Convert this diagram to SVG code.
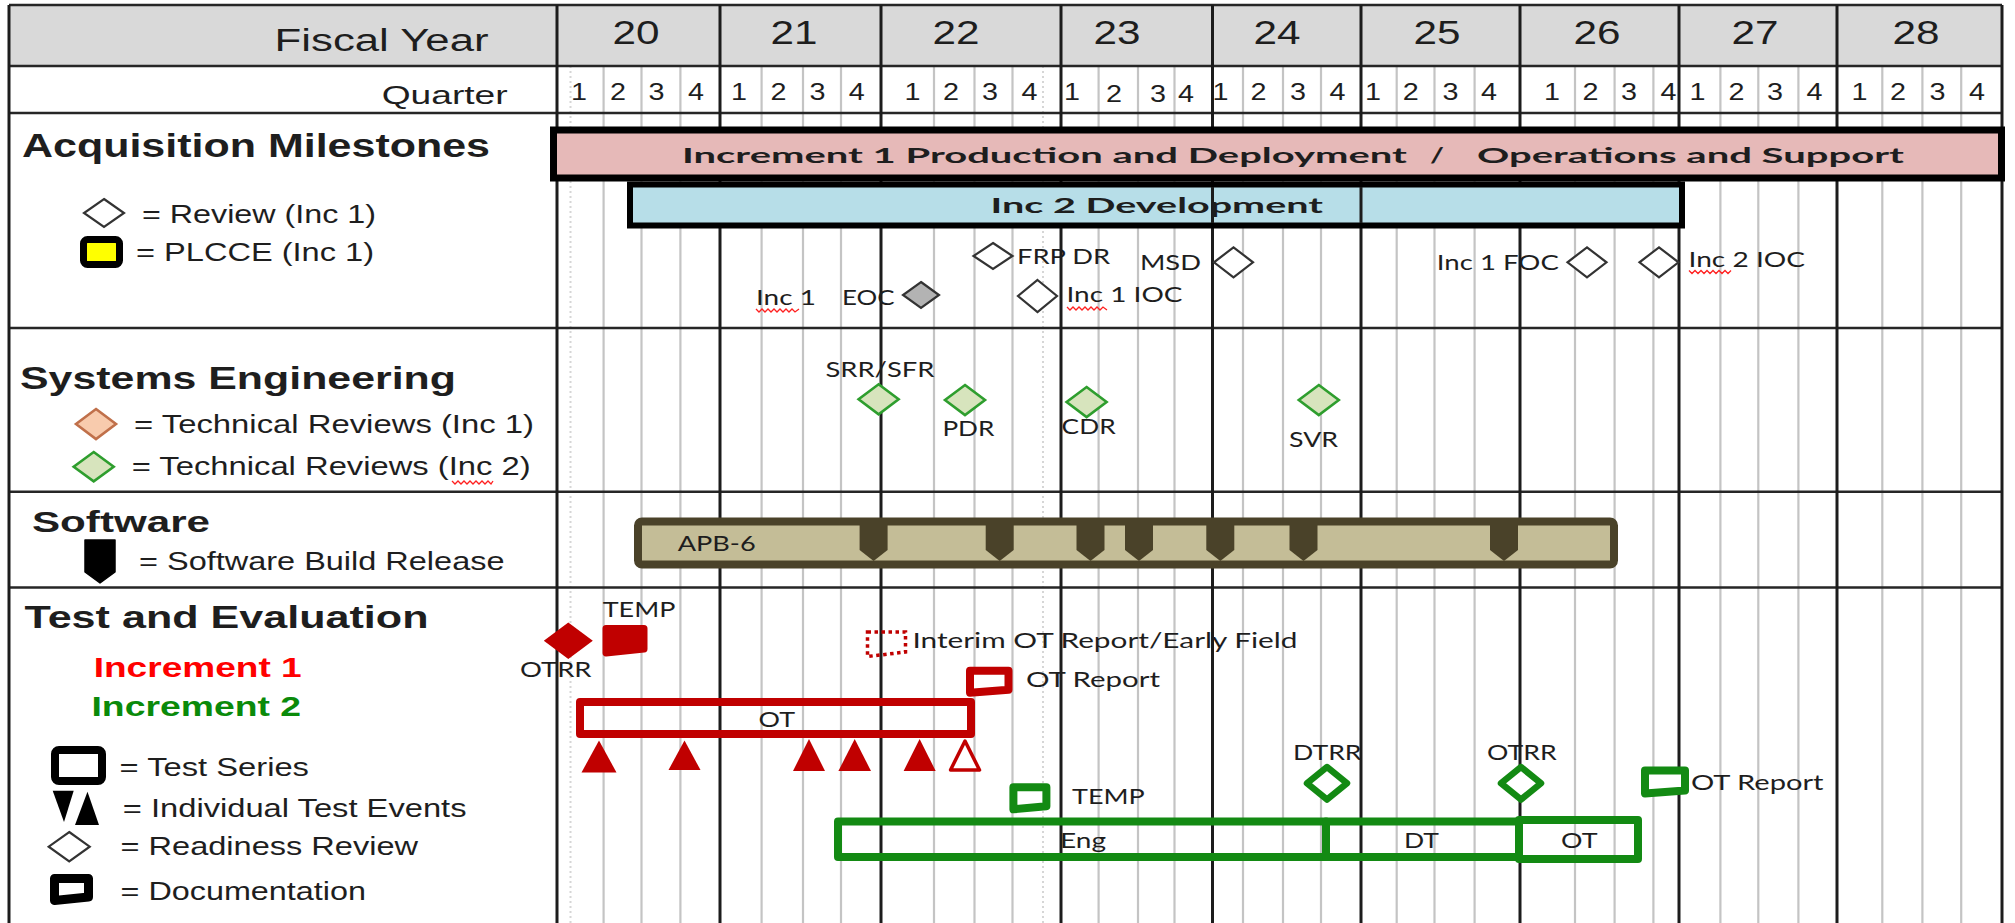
<svg xmlns="http://www.w3.org/2000/svg" width="2015" height="923" viewBox="0 0 2015 923">
<style>
.a{font-family:"Liberation Sans",Arial,sans-serif;fill:#1e1e1e}
.c{font-family:Lato,"Open Sans",sans-serif;fill:#1e1e1e;font-size:21px}
.b{font-weight:bold}
.q{stroke:#c4c4c4;stroke-width:2.2}
.qd{stroke:#d6d6d6;stroke-width:2;stroke-dasharray:2 3}
.y{stroke:#1c1c1c;stroke-width:3}
.h{stroke:#262626;stroke-width:2.6}
.dw{fill:#fff;stroke:#333;stroke-width:2.2}
.dg{fill:#d7e4bd;stroke:#2e9e2e;stroke-width:2.6}
.rd{fill:#c00000}
.gr{fill:none;stroke:#138a13;stroke-width:8;stroke-linejoin:round}
.rr{fill:none;stroke:#c00000;stroke-width:8;stroke-linejoin:round}
.nt{fill:#4a4229}
.sq{fill:none;stroke:#ff2020;stroke-width:1.3}
.doc{stroke-width:8;stroke-linejoin:round}
</style>

<g id="grid">
<rect x="9" y="5" width="1993" height="61" fill="#d9d9d9"/>
<rect x="9" y="66" width="1993" height="857" fill="#fff"/>
<g class="qd">
<line x1="570.5" y1="66" x2="570.5" y2="923"/><line x1="1043" y1="66" x2="1043" y2="923"/>
</g>
<g class="q">
<line x1="603.6" y1="66" x2="603.6" y2="923"/><line x1="641.5" y1="66" x2="641.5" y2="923"/><line x1="680.4" y1="66" x2="680.4" y2="923"/>
<line x1="761.6" y1="66" x2="761.6" y2="923"/><line x1="803" y1="66" x2="803" y2="923"/><line x1="841" y1="66" x2="841" y2="923"/>
<line x1="934" y1="66" x2="934" y2="923"/><line x1="974.5" y1="66" x2="974.5" y2="923"/><line x1="1012.5" y1="66" x2="1012.5" y2="923"/>
<line x1="1098.6" y1="66" x2="1098.6" y2="923"/><line x1="1138" y1="66" x2="1138" y2="923"/><line x1="1174.5" y1="66" x2="1174.5" y2="923"/>
<line x1="1243" y1="66" x2="1243" y2="923"/><line x1="1283" y1="66" x2="1283" y2="923"/><line x1="1321" y1="66" x2="1321" y2="923"/>
<line x1="1396.7" y1="66" x2="1396.7" y2="923"/><line x1="1434.5" y1="66" x2="1434.5" y2="923"/><line x1="1474.6" y1="66" x2="1474.6" y2="923"/>
<line x1="1575" y1="66" x2="1575" y2="923"/><line x1="1614.6" y1="66" x2="1614.6" y2="923"/><line x1="1653.4" y1="66" x2="1653.4" y2="923"/>
<line x1="1720.4" y1="66" x2="1720.4" y2="923"/><line x1="1758.3" y1="66" x2="1758.3" y2="923"/><line x1="1798.4" y1="66" x2="1798.4" y2="923"/>
<line x1="1882.3" y1="66" x2="1882.3" y2="923"/><line x1="1922.4" y1="66" x2="1922.4" y2="923"/><line x1="1961.2" y1="66" x2="1961.2" y2="923"/>
</g>
<g class="h">
<line x1="9" y1="5" x2="2002" y2="5"/><line x1="9" y1="66" x2="2002" y2="66"/><line x1="9" y1="113" x2="2002" y2="113"/>
<line x1="9" y1="328" x2="2002" y2="328"/><line x1="9" y1="491.7" x2="2002" y2="491.7"/><line x1="9" y1="587.5" x2="2002" y2="587.5"/>
</g>
<g class="y">
<line x1="9" y1="5" x2="9" y2="923"/>
<line x1="557" y1="5" x2="557" y2="923"/><line x1="720" y1="5" x2="720" y2="923"/><line x1="881" y1="5" x2="881" y2="923"/>
<line x1="1061" y1="5" x2="1061" y2="923"/><line x1="1212.5" y1="5" x2="1212.5" y2="923"/><line x1="1361" y1="5" x2="1361" y2="923"/>
<line x1="1520" y1="5" x2="1520" y2="923"/><line x1="1679" y1="5" x2="1679" y2="923"/><line x1="1837" y1="5" x2="1837" y2="923"/>
<line x1="2002" y1="5" x2="2002" y2="923"/>
</g>
</g>

<g id="header">
<text class="a" x="274.6" y="50.7" font-size="31" textLength="214" lengthAdjust="spacingAndGlyphs">Fiscal Year</text>
<text class="a" x="381.7" y="104" font-size="26" textLength="126" lengthAdjust="spacingAndGlyphs">Quarter</text>
<g class="a" font-size="33" text-anchor="middle">
<text x="636" y="44.3" textLength="47" lengthAdjust="spacingAndGlyphs">20</text>
<text x="794" y="44.3" textLength="47" lengthAdjust="spacingAndGlyphs">21</text>
<text x="956" y="44.3" textLength="47" lengthAdjust="spacingAndGlyphs">22</text>
<text x="1117" y="44.3" textLength="47" lengthAdjust="spacingAndGlyphs">23</text>
<text x="1277" y="44.3" textLength="47" lengthAdjust="spacingAndGlyphs">24</text>
<text x="1437" y="44.3" textLength="47" lengthAdjust="spacingAndGlyphs">25</text>
<text x="1597" y="44.3" textLength="47" lengthAdjust="spacingAndGlyphs">26</text>
<text x="1755" y="44.3" textLength="47" lengthAdjust="spacingAndGlyphs">27</text>
<text x="1916" y="44.3" textLength="47" lengthAdjust="spacingAndGlyphs">28</text>
</g>
<g class="a" font-size="24" text-anchor="middle">
<text x="579" y="100" textLength="16" lengthAdjust="spacingAndGlyphs">1</text><text x="618" y="100" textLength="16" lengthAdjust="spacingAndGlyphs">2</text><text x="656.5" y="100" textLength="16" lengthAdjust="spacingAndGlyphs">3</text><text x="696" y="100" textLength="16" lengthAdjust="spacingAndGlyphs">4</text>
<text x="739" y="100" textLength="16" lengthAdjust="spacingAndGlyphs">1</text><text x="778.6" y="100" textLength="16" lengthAdjust="spacingAndGlyphs">2</text><text x="817.4" y="100" textLength="16" lengthAdjust="spacingAndGlyphs">3</text><text x="856.7" y="100" textLength="16" lengthAdjust="spacingAndGlyphs">4</text>
<text x="912.5" y="100" textLength="16" lengthAdjust="spacingAndGlyphs">1</text><text x="951" y="100" textLength="16" lengthAdjust="spacingAndGlyphs">2</text><text x="990" y="100" textLength="16" lengthAdjust="spacingAndGlyphs">3</text><text x="1029.5" y="100" textLength="16" lengthAdjust="spacingAndGlyphs">4</text>
<text x="1072" y="100" textLength="16" lengthAdjust="spacingAndGlyphs">1</text><text x="1114" y="102" textLength="16" lengthAdjust="spacingAndGlyphs">2</text><text x="1158" y="102" textLength="16" lengthAdjust="spacingAndGlyphs">3</text><text x="1186" y="102" textLength="16" lengthAdjust="spacingAndGlyphs">4</text>
<text x="1220.5" y="100" textLength="16" lengthAdjust="spacingAndGlyphs">1</text><text x="1258.5" y="100" textLength="16" lengthAdjust="spacingAndGlyphs">2</text><text x="1298" y="100" textLength="16" lengthAdjust="spacingAndGlyphs">3</text><text x="1337.5" y="100" textLength="16" lengthAdjust="spacingAndGlyphs">4</text>
<text x="1373" y="100" textLength="16" lengthAdjust="spacingAndGlyphs">1</text><text x="1410.8" y="100" textLength="16" lengthAdjust="spacingAndGlyphs">2</text><text x="1450.5" y="100" textLength="16" lengthAdjust="spacingAndGlyphs">3</text><text x="1489" y="100" textLength="16" lengthAdjust="spacingAndGlyphs">4</text>
<text x="1552" y="100" textLength="16" lengthAdjust="spacingAndGlyphs">1</text><text x="1590.5" y="100" textLength="16" lengthAdjust="spacingAndGlyphs">2</text><text x="1629" y="100" textLength="16" lengthAdjust="spacingAndGlyphs">3</text><text x="1668.5" y="100" textLength="16" lengthAdjust="spacingAndGlyphs">4</text>
<text x="1697.6" y="100" textLength="16" lengthAdjust="spacingAndGlyphs">1</text><text x="1736.4" y="100" textLength="16" lengthAdjust="spacingAndGlyphs">2</text><text x="1775" y="100" textLength="16" lengthAdjust="spacingAndGlyphs">3</text><text x="1814.4" y="100" textLength="16" lengthAdjust="spacingAndGlyphs">4</text>
<text x="1859.5" y="100" textLength="16" lengthAdjust="spacingAndGlyphs">1</text><text x="1898" y="100" textLength="16" lengthAdjust="spacingAndGlyphs">2</text><text x="1937.5" y="100" textLength="16" lengthAdjust="spacingAndGlyphs">3</text><text x="1977" y="100" textLength="16" lengthAdjust="spacingAndGlyphs">4</text>
</g>
</g>

<g id="legend-acquisition">
<text class="a b" x="22" y="156.7" font-size="32.5" textLength="468" lengthAdjust="spacingAndGlyphs">Acquisition Milestones</text>
<polygon class="dw" points="104,199 124,213 104,227 84,213"/>
<text class="a" x="142" y="222.7" font-size="25" textLength="234" lengthAdjust="spacingAndGlyphs">= Review (Inc 1)</text>
<rect x="83.5" y="239.5" width="36" height="25" rx="4" fill="#ffff00" stroke="#000" stroke-width="7"/>
<text class="a" x="136" y="261" font-size="25" textLength="238" lengthAdjust="spacingAndGlyphs">= PLCCE (Inc 1)</text>
</g>

<g id="legend-se">
<text class="a b" x="20" y="389.3" font-size="32" textLength="436" lengthAdjust="spacingAndGlyphs">Systems Engineering</text>
<polygon points="96,409 116,424 96,439 76,424" fill="#f8cbad" stroke="#c0704a" stroke-width="2.6"/>
<text class="a" x="134" y="433.3" font-size="25" textLength="400" lengthAdjust="spacingAndGlyphs">= Technical Reviews (Inc 1)</text>
<polygon class="dg" points="93.7,452 113.7,466.7 93.7,481.4 73.7,466.7"/>
<text class="a" x="131.7" y="475" font-size="25" textLength="399" lengthAdjust="spacingAndGlyphs">= Technical Reviews (Inc 2)</text>
<polyline class="sq" points="452,481 455,484 458,481 461,484 464,481 467,484 470,481 473,484 476,481 479,484 482,481 485,484 488,481 491,484 493,481"/>
</g>

<g id="legend-software">
<text class="a b" x="32" y="531.7" font-size="30" textLength="178" lengthAdjust="spacingAndGlyphs">Software</text>
<polygon points="85,540 115,540 115,572 100,583 85,572" fill="#000" stroke="#000" stroke-width="1.5" stroke-linejoin="round"/>
<text class="a" x="139" y="570" font-size="25" textLength="365.5" lengthAdjust="spacingAndGlyphs">= Software Build Release</text>
</g>

<g id="legend-te">
<text class="a b" x="24.5" y="627.7" font-size="32" textLength="404" lengthAdjust="spacingAndGlyphs">Test and Evaluation</text>
<text class="a b" x="93.7" y="676.7" font-size="27" textLength="208" lengthAdjust="spacingAndGlyphs" style="fill:#ff0000">Increment 1</text>
<text class="a b" x="91.5" y="716" font-size="27" textLength="209.5" lengthAdjust="spacingAndGlyphs" style="fill:#0a8a0a">Increment 2</text>
<rect x="55" y="750" width="47" height="31" rx="4" fill="#fff" stroke="#000" stroke-width="8"/>
<text class="a" x="119.6" y="776" font-size="25" textLength="189.4" lengthAdjust="spacingAndGlyphs">= Test Series</text>
<polygon points="52.7,790.7 73.7,790.7 64,822" fill="#000"/>
<polygon points="87.5,791.7 99,825 75,825" fill="#000"/>
<text class="a" x="122.8" y="816.7" font-size="25" textLength="343.7" lengthAdjust="spacingAndGlyphs">= Individual Test Events</text>
<polygon class="dw" points="69.2,832 89.7,846.7 69.2,861.4 48.7,846.7"/>
<text class="a" x="120.5" y="855" font-size="25" textLength="297.5" lengthAdjust="spacingAndGlyphs">= Readiness Review</text>
<path d="M54.5,878.5 H88.5 V897 L54.5,900.5 Z" fill="#fff" stroke="#000" stroke-width="9" stroke-linejoin="round"/>
<text class="a" x="120.5" y="900" font-size="25" textLength="245.5" lengthAdjust="spacingAndGlyphs">= Documentation</text>
</g>

<g id="bar-inc1">
<rect x="553.5" y="130" width="1448" height="48" fill="#e6b9b8" stroke="#000" stroke-width="7"/>
<text class="c b" x="682" y="163.3" font-size="28" textLength="725" lengthAdjust="spacingAndGlyphs">Increment 1 Production and Deployment</text>
<text class="c b" x="1430" y="163.3" font-size="28" textLength="14" lengthAdjust="spacingAndGlyphs">/</text>
<text class="c b" x="1477" y="163.3" font-size="28" textLength="427" lengthAdjust="spacingAndGlyphs">Operations and Support</text>
</g>

<g id="bar-inc2">
<rect x="630" y="184.5" width="1052" height="41" fill="#b7dee8" stroke="#000" stroke-width="6"/>
<line class="y" x1="1212.5" y1="187" x2="1212.5" y2="223" stroke-width="2"/>
<line class="y" x1="1361" y1="187" x2="1361" y2="223" stroke-width="2.5"/>
<text class="c b" x="990.6" y="213.3" font-size="25" textLength="332.4" lengthAdjust="spacingAndGlyphs">Inc 2 Development</text>
</g>

<g id="ms-frp-dr">
<polygon class="dw" points="993,243 1012.5,256 993,269 973.5,256"/>
<text class="c" x="1017" y="264" textLength="93" lengthAdjust="spacingAndGlyphs">FRP DR</text>
</g>
<g id="ms-msd">
<text class="c" x="1140" y="270" textLength="61" lengthAdjust="spacingAndGlyphs">MSD</text>
<polygon class="dw" points="1233.5,247.3 1253,262.3 1233.5,277.3 1214,262.3"/>
</g>
<g id="ms-eoc">
<text class="c" x="756" y="305" textLength="60" lengthAdjust="spacingAndGlyphs">Inc 1</text>
<polyline class="sq" points="756,309 759,312 762,309 765,312 768,309 771,312 774,309 777,312 780,309 783,312 786,309 789,312 792,309 795,312 799,309"/>
<text class="c" x="842" y="305" textLength="52.6" lengthAdjust="spacingAndGlyphs">EOC</text>
<polygon points="921,282 939,295 921,308 903,295" fill="#b3b3b3" stroke="#333" stroke-width="2.2"/>
</g>
<g id="ms-inc1-ioc">
<polygon class="dw" points="1037.5,280 1057,296 1037.5,312 1018,296"/>
<text class="c" x="1066.5" y="301.7" textLength="116" lengthAdjust="spacingAndGlyphs">Inc 1 IOC</text>
<polyline class="sq" points="1067,307 1070,310 1073,307 1076,310 1079,307 1082,310 1085,307 1088,310 1091,307 1094,310 1097,307 1100,310 1103,307 1107,310"/>
</g>
<g id="ms-inc1-foc">
<text class="c" x="1436.8" y="270" textLength="122" lengthAdjust="spacingAndGlyphs">Inc 1 FOC</text>
<polygon class="dw" points="1587,247.3 1606.5,262.3 1587,277.3 1567.5,262.3"/>
</g>
<g id="ms-inc2-ioc">
<polygon class="dw" points="1659,247.3 1678.5,262.3 1659,277.3 1639.5,262.3"/>
<text class="c" x="1688.5" y="266.7" textLength="116.5" lengthAdjust="spacingAndGlyphs">Inc 2 IOC</text>
<polyline class="sq" points="1689,270.5 1692,273.5 1695,270.5 1698,273.5 1701,270.5 1704,273.5 1707,270.5 1710,273.5 1713,270.5 1716,273.5 1719,270.5 1722,273.5 1725,270.5 1728,273.5 1731,270.5"/>
</g>

<g id="se-srr-sfr">
<text class="c" x="825.4" y="377.3" textLength="109" lengthAdjust="spacingAndGlyphs">SRR/SFR</text>
<polygon class="dg" points="878.6,384.3 898.6,399.3 878.6,414.3 858.6,399.3"/>
</g>
<g id="se-pdr">
<polygon class="dg" points="965,385 985,400 965,415 945,400"/>
<text class="c" x="942.4" y="436" textLength="52" lengthAdjust="spacingAndGlyphs">PDR</text>
</g>
<g id="se-cdr">
<polygon class="dg" points="1086.6,387 1106.6,402 1086.6,417 1066.6,402"/>
<text class="c" x="1061.6" y="434" textLength="54" lengthAdjust="spacingAndGlyphs">CDR</text>
</g>
<g id="se-svr">
<polygon class="dg" points="1318.8,385 1338.8,400 1318.8,415 1298.8,400"/>
<text class="c" x="1289" y="446.7" textLength="49" lengthAdjust="spacingAndGlyphs">SVR</text>
</g>

<g id="sw-apb6">
<rect x="638" y="521.5" width="976" height="43" rx="4" fill="#c4bd97" stroke="#4a4229" stroke-width="8"/>
<text class="c" x="677.7" y="551" textLength="78" lengthAdjust="spacingAndGlyphs">APB-6</text>
<polygon class="nt" points="859.6,524 887.6,524 887.6,550 873.6,561 859.6,550"/>
<polygon class="nt" points="985.7,524 1013.7,524 1013.7,550 999.7,561 985.7,550"/>
<polygon class="nt" points="1076.5,524 1104.5,524 1104.5,550 1090.5,561 1076.5,550"/>
<polygon class="nt" points="1125,524 1153,524 1153,550 1139,561 1125,550"/>
<polygon class="nt" points="1206.3,524 1234.3,524 1234.3,550 1220.3,561 1206.3,550"/>
<polygon class="nt" points="1289.5,524 1317.5,524 1317.5,550 1303.5,561 1289.5,550"/>
<polygon class="nt" points="1490,524 1518,524 1518,550 1504,561 1490,550"/>
</g>

<g id="te-otrr-inc1">
<polygon class="rd" points="568.3,622.4 592.8,640.7 568.3,659 543.8,640.7"/>
<text class="c" x="520" y="676.7" textLength="71.5" lengthAdjust="spacingAndGlyphs">OTRR</text>
</g>
<g id="te-temp-inc1">
<text class="c" x="602.7" y="617.3" textLength="72.7" lengthAdjust="spacingAndGlyphs">TEMP</text>
<path d="M606,628.5 H644 V649 L606,653 Z" fill="#c00000" stroke="#c00000" stroke-width="7" stroke-linejoin="round"/>
</g>
<g id="te-interim">
<path d="M867.5,632 H905.5 V652 L867.5,656.5 Z" fill="none" stroke="#c00000" stroke-width="3.5" stroke-dasharray="3.5 3.5"/>
<text class="c" x="912.5" y="648.3" textLength="385" lengthAdjust="spacingAndGlyphs">Interim OT Report/Early Field</text>
</g>
<g id="te-ot-report-inc1">
<path class="doc" d="M970,670.7 H1008.5 V689.7 L970,692.7 Z" fill="#fff" stroke="#c00000"/>
<text class="c" x="1026" y="687.3" textLength="134" lengthAdjust="spacingAndGlyphs">OT Report</text>
</g>
<g id="te-ot-inc1">
<rect class="rr" x="580" y="702" width="391" height="32"/>
<text class="c" x="758.5" y="726.7" textLength="36.5" lengthAdjust="spacingAndGlyphs">OT</text>
</g>
<g id="te-events-inc1">
<polygon class="rd" points="599,740.5 616.5,772.5 581.5,772.5"/>
<polygon class="rd" points="684.5,740.5 700.5,770 668.5,770"/>
<polygon class="rd" points="809,739 825,771 793,771"/>
<polygon class="rd" points="854.7,739 871,771 838.4,771"/>
<polygon class="rd" points="919.6,739 935.7,771 903.6,771"/>
<polygon points="965,741 979.5,770 950.5,770" fill="#fff" stroke="#c00000" stroke-width="3.5" stroke-linejoin="round"/>
</g>

<g id="te-temp-inc2">
<path class="doc" d="M1013.4,787.3 H1046.4 V806.3 L1013.4,809.3 Z" fill="#fff" stroke="#138a13"/>
<text class="c" x="1072" y="804" textLength="72.7" lengthAdjust="spacingAndGlyphs">TEMP</text>
</g>
<g id="te-dtrr">
<text class="c" x="1293" y="760" textLength="68.6" lengthAdjust="spacingAndGlyphs">DTRR</text>
<polygon points="1327,767 1347,783.3 1327,799.6 1307,783.3" fill="#fff" stroke="#138a13" stroke-width="6.5" stroke-linejoin="round"/>
</g>
<g id="te-otrr-inc2">
<text class="c" x="1487" y="760" textLength="69.7" lengthAdjust="spacingAndGlyphs">OTRR</text>
<polygon points="1521,767 1541,783.3 1521,799.6 1501,783.3" fill="#fff" stroke="#138a13" stroke-width="6.5" stroke-linejoin="round"/>
</g>
<g id="te-ot-report-inc2">
<path class="doc" d="M1645,770.5 H1685 V790.5 L1645,793.5 Z" fill="#fff" stroke="#138a13"/>
<text class="c" x="1691" y="790" textLength="132.5" lengthAdjust="spacingAndGlyphs">OT Report</text>
</g>
<g id="te-eng">
<rect class="gr" x="838" y="821.5" width="488" height="35.5"/>
<text class="c" x="1060" y="848.3" textLength="46" lengthAdjust="spacingAndGlyphs">Eng</text>
</g>
<g id="te-dt">
<rect class="gr" x="1326" y="821.5" width="193" height="35.5"/>
<text class="c" x="1404" y="848.3" textLength="35" lengthAdjust="spacingAndGlyphs">DT</text>
</g>
<g id="te-ot-inc2">
<rect class="gr" x="1519" y="820" width="119" height="39"/>
<text class="c" x="1561" y="848.3" textLength="36.5" lengthAdjust="spacingAndGlyphs">OT</text>
</g>

<g id="connectors"/>
</svg>
